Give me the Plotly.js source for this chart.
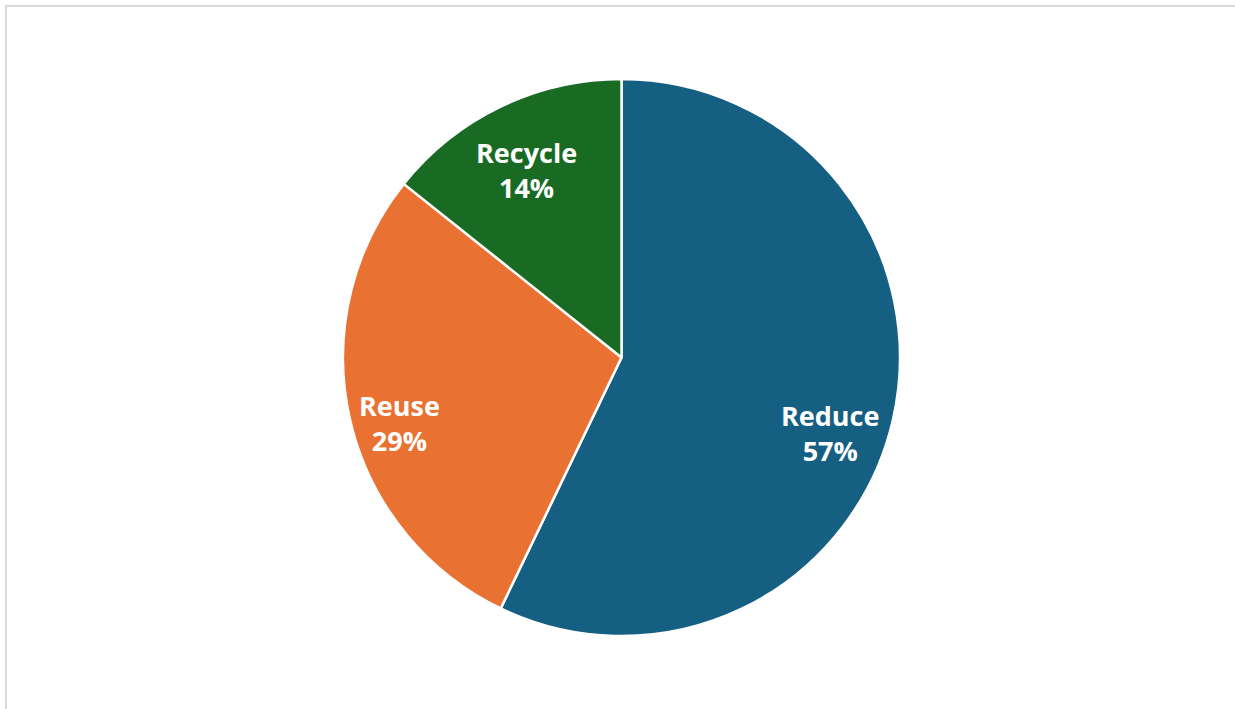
<!DOCTYPE html>
<html>
<head>
<meta charset="utf-8">
<script src="https://cdn.plot.ly/plotly-3.0.1.min.js"></script>
<style>
  html, body { margin: 0; padding: 0; background: #fff; }
  #wrap { position: relative; width: 1235px; height: 709px; overflow: hidden; }
  #chart { position: absolute; left: 0; top: 0; width: 1235px; height: 709px; }
  #frame { position: absolute; left: 5px; top: 5px; width: 1240px; height: 720px;
           border-top: 2px solid #d9d9d9; border-left: 2px solid #d9d9d9; pointer-events: none; }
</style>
</head>
<body>
<div id="wrap">
  <div id="chart"></div>
  <div id="frame"></div>
</div>
<script>
const categories = ["Reduce", "Reuse", "Recycle"];
const values = [4, 2, 1];
const colors = ["#156082", "#E97132", "#196B24"];

// label placement style (Excel "best fit" look): radial fraction and angle shift per slice
const labelRadius = [0.795, 0.83, 0.755];
const labelAngleShift = [7, -3.5, -1];

const W = 1235, H = 709;
const cx = 621.5, cy = 357.5, r = 278.5;

const total = values.reduce((a, b) => a + b, 0);
const annotations = [];
let cum = 0;
values.forEach((v, i) => {
  const mid = (cum + v / 2) / total * 360 + labelAngleShift[i];
  cum += v;
  const rad = mid * Math.PI / 180;
  const px = cx + labelRadius[i] * r * Math.sin(rad);
  const py = cy - labelRadius[i] * r * Math.cos(rad);
  const pct = Math.round(v / total * 100);
  annotations.push({
    xref: "paper", yref: "paper",
    x: px / W, y: 1 - py / H,
    xanchor: "center", yanchor: "middle",
    text: categories[i] + "<br>" + pct + "%",
    showarrow: false, borderpad: 0,
    font: { family: "Open Sans, Liberation Sans, sans-serif", size: 27, color: "#ffffff", weight: 700 }
  });
});

const data = [{
  type: "pie",
  labels: categories,
  values: values,
  sort: false,
  direction: "clockwise",
  rotation: 0,
  marker: { colors: colors, line: { color: "#ffffff", width: 2.5 } },
  textinfo: "none",
  hoverinfo: "label+percent",
  domain: {
    x: [(cx - r) / W, (cx + r) / W],
    y: [(H - cy - r) / H, (H - cy + r) / H]
  }
}];

const layout = {
  width: W, height: H,
  margin: { l: 0, r: 0, t: 0, b: 0 },
  showlegend: false,
  paper_bgcolor: "#ffffff",
  plot_bgcolor: "#ffffff",
  annotations: annotations
};

Plotly.newPlot("chart", data, layout, { displayModeBar: false, staticPlot: true });
</script>
</body>
</html>
